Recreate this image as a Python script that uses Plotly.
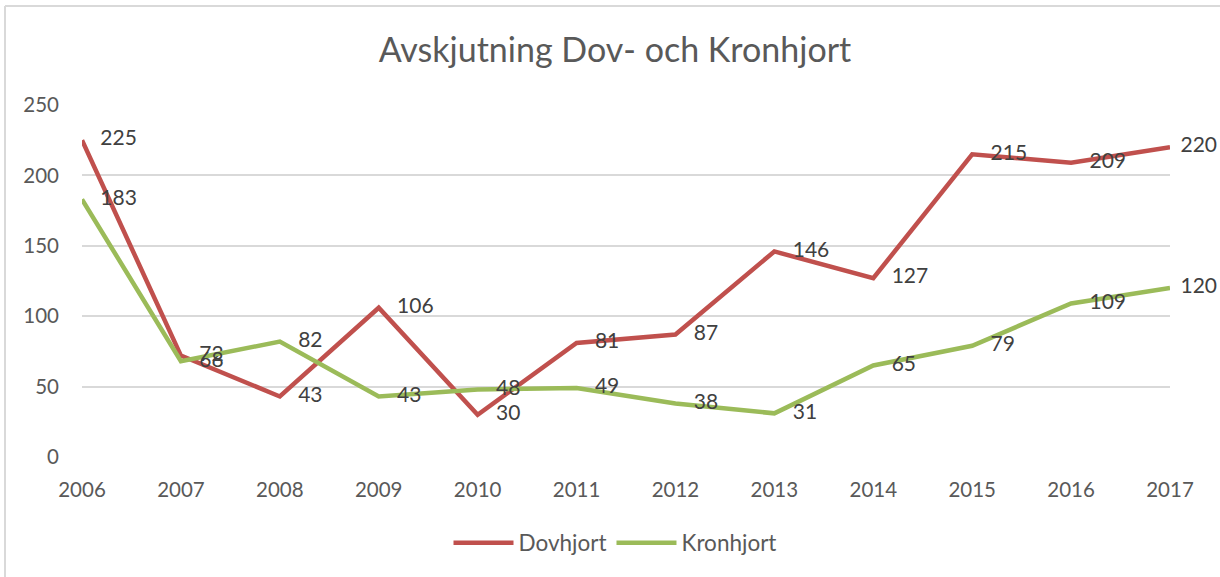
import plotly.graph_objects as go

years = [2006, 2007, 2008, 2009, 2010, 2011, 2012, 2013, 2014, 2015, 2016, 2017]
dovhjort = [225, 72, 43, 106, 30, 81, 87, 146, 127, 215, 209, 220]
kronhjort = [183, 68, 82, 43, 48, 49, 38, 31, 65, 79, 109, 120]
title = "Avskjutning Dov- och Kronhjort"

font = "Lato, 'Open Sans', sans-serif"
# label padding (Excel pulls the last label closer to fit inside the chart)
pads = ["\u2003\u2009"] * (len(years) - 1) + ["\u2002"]

fig = go.Figure()
fig.add_trace(go.Scatter(
    x=years, y=dovhjort, name="Dovhjort", mode="lines+text",
    line=dict(color="#C0504D", width=4.5),
    text=[p + str(v) for p, v in zip(pads, dovhjort)], textposition="middle right",
    textfont=dict(size=21, color="#404040", family=font),
    cliponaxis=False,
))
fig.add_trace(go.Scatter(
    x=years, y=kronhjort, name="Kronhjort", mode="lines+text",
    line=dict(color="#9BBB59", width=4.5),
    text=[p + str(v) for p, v in zip(pads, kronhjort)], textposition="middle right",
    textfont=dict(size=21, color="#404040", family=font),
    cliponaxis=False,
))

L, R, T, B = 82, 50, 105, 120
W, H = 1220, 577
pw, ph = W - L - R, H - T - B

def px(x):
    return (x - L) / pw

def py(y):
    return (H - B - y) / ph

fig.update_layout(
    width=W, height=H,
    margin=dict(l=L, r=R, t=T, b=B, autoexpand=False),
    paper_bgcolor="white", plot_bgcolor="white",
    font=dict(family=font, color="#595959"),
    title=dict(text=title, x=px(615), xanchor="center", xref="paper", y=1 - 50 / H, yanchor="middle",
               font=dict(size=34, color="#595959", family=font)),
    xaxis=dict(range=[2006, 2017], tickmode="array", tickvals=years,
               ticktext=[str(y) for y in years], showgrid=False, zeroline=False,
               showline=False, tickfont=dict(size=20.5, color="#595959"), ticks="",
               ticklabelstandoff=18, automargin=False),
    yaxis=dict(range=[0, 250], tickvals=[0, 50, 100, 150, 200, 250],
               showgrid=True, gridcolor="#D9D9D9", gridwidth=1.5, zeroline=False,
               showline=False, tickfont=dict(size=20.5, color="#595959"), ticks="",
               ticklabelstandoff=22, automargin=False),
    legend=dict(orientation="h", x=px(615), xanchor="center", y=py(543), yanchor="middle",
                font=dict(size=22.5, color="#595959"), itemwidth=60),
    showlegend=True,
    shapes=[
        dict(type="line", xref="paper", yref="paper", x0=px(5), x1=px(1225), y0=py(6), y1=py(6),
             line=dict(color="#D9D9D9", width=2)),
        dict(type="line", xref="paper", yref="paper", x0=px(5), x1=px(5), y0=py(6), y1=py(585),
             line=dict(color="#D9D9D9", width=2)),
    ],
)

fig.write_html("out.html", config={"displayModeBar": False},
               post_script="document.body.style.margin='0';document.body.style.overflow='hidden';")
